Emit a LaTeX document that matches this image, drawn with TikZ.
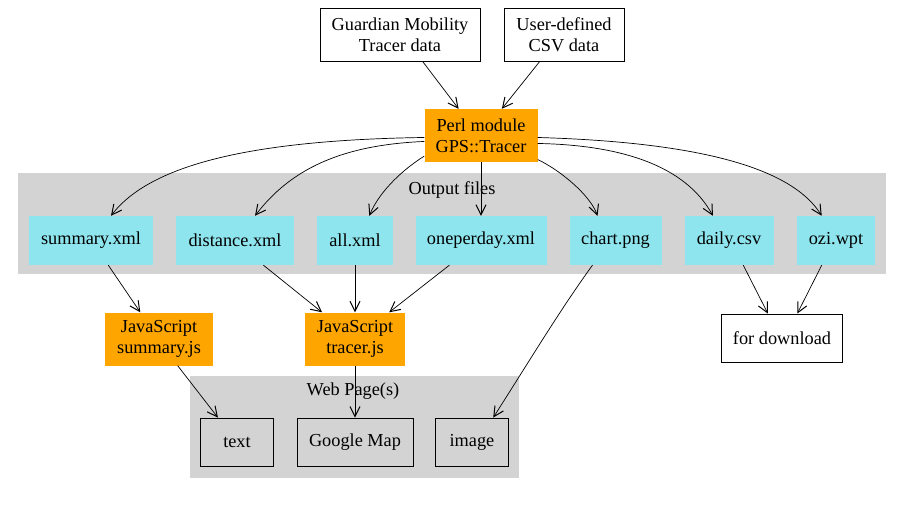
\documentclass[tikz,border=0pt]{standalone}
\usepackage{fontspec}
\setmainfont{Liberation Serif}
\usetikzlibrary{arrows.meta,calc}
\definecolor{perlorange}{HTML}{FFA500}
\definecolor{filecyan}{HTML}{8EE5EE}
\definecolor{clustergray}{HTML}{D3D3D3}
\tikzstyle{plainbox}=[draw,line width=0.8pt,minimum height=48pt,inner sep=0pt,align=center]
\tikzstyle{codebox}=[fill=perlorange,minimum height=53pt,inner sep=0pt,align=center]
\tikzstyle{filebox}=[fill=filecyan,minimum height=49pt,inner sep=0pt]
\tikzstyle{flow}=[-{Straight Barb[length=10pt,width=10pt,line width=1pt]},line width=0.7pt]

\begin{document}
\begin{tikzpicture}[x=1pt,y=-1pt,font=\fontsize{18.3}{21}\selectfont]
	\useasboundingbox (0,0) rectangle (903,506);
	% clusters
	\fill[clustergray] (18,173) rectangle (886,274);
	\node (outlabel) at (452,190) {Output files};
	\fill[clustergray] (190,376) rectangle (519,478);
	\node (weblabel) at (353,391) {Web Page(s)};
	% sources
	\node[plainbox,minimum width=160pt,minimum height=53pt] (guardian) at (400,34.5) {Guardian Mobility\\Tracer data};
	\node[plainbox,minimum width=120pt,minimum height=53pt] (userdef) at (564,34.5) {User-defined\\CSV data};
	\node[codebox,minimum width=113pt] (perl) at (481,135.5) {Perl module\\GPS::Tracer};
	% output files
	\node[filebox,minimum width=124pt] (summary) at (91,240.5) {summary.xml};
	\node[filebox,minimum width=118pt] (distance) at (235,240.5) {distance.xml};
	\node[filebox,minimum width=76pt] (all) at (355,240.5) {all.xml};
	\node[filebox,minimum width=131pt] (oneperday) at (481,240.5) {oneperday.xml};
	\node[filebox,minimum width=92pt] (chart) at (615.5,240.5) {chart.png};
	\node[filebox,minimum width=89pt] (daily) at (729,240.5) {daily.csv};
	\node[filebox,minimum width=78pt] (ozi) at (836,240.5) {ozi.wpt};
	% scripts
	\node[codebox,minimum width=108pt] (jssummary) at (159,339) {JavaScript\\summary.js};
	\node[codebox,minimum width=100pt] (jstracer) at (355,339) {JavaScript\\tracer.js};
	\node[plainbox,minimum width=121pt] (download) at (782,338) {for download};
	% web page parts
	\node[plainbox,minimum width=73pt] (text) at (237,442) {text};
	\node[plainbox,minimum width=116pt] (gmap) at (355,442) {Google Map};
	\node[plainbox,minimum width=73pt] (image) at (472,442) {image};

	\draw[flow] (guardian.-50) -- (perl.130);
	\draw[flow] (userdef.228) -- (perl.52);
	\draw[flow] (perl.182.5) .. controls (250,140) and (150,165) .. (summary.51); %summary
	\draw[flow] (perl.186.6) .. controls (340,145) and (290,170) .. (distance.51); %distance
	\draw[flow] (perl.200) .. controls (405,168) and (380,190) .. (all.60); %all
	\draw[flow] (perl.south) -- (oneperday.north);
	\draw[flow] (perl.337) .. controls (560,170) and (590,195) .. (chart.126); %chart
	\draw[flow] (perl.352) .. controls (620,145) and (685,165) .. (daily.123); %daily
	\draw[flow] (perl.358) .. controls (690,142) and (790,165) .. (ozi.120); %ozi
	\draw[flow] (summary.-55) -- (jssummary.125);
	\draw[flow] (distance.-41) -- (jstracer.141);
	\draw[flow] (all.south) -- (jstracer.north);
	\draw[flow] (oneperday.218) -- (jstracer.38);
	\draw[flow] (chart.227) .. controls (560,310) and (530,360) .. (image.49); %image
	\draw[flow] (jssummary.-55) -- (text.128);
	\draw[flow] (jstracer.south) -- (gmap.north);
	\draw[flow] (daily.-60) -- (download.120);
	\draw[flow] (ozi.240) -- (download.58);
\end{tikzpicture}
\end{document}
